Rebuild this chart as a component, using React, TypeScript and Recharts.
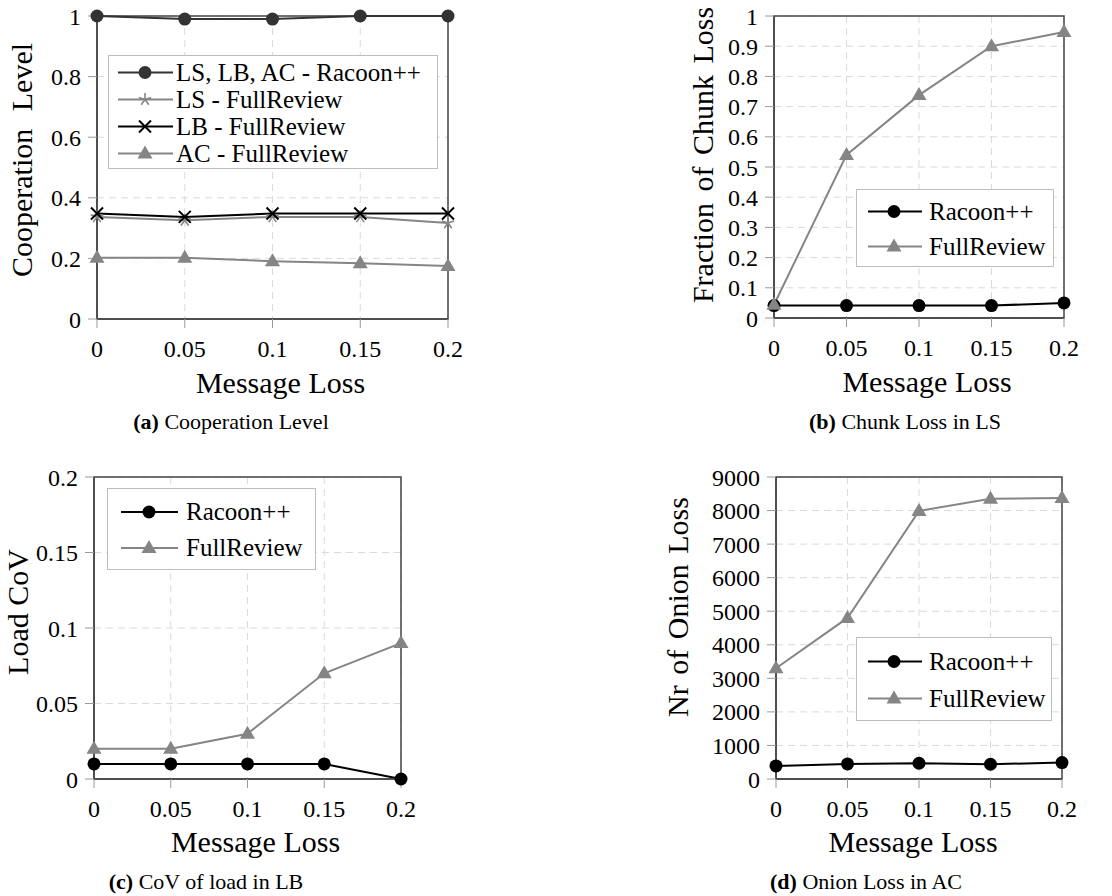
import React from 'react';
import { LineChart, Line, XAxis, YAxis, CartesianGrid, Legend, ReferenceArea, Label } from 'recharts';

// ---------- data ----------
const messageLoss = [0, 0.05, 0.1, 0.15, 0.2];
const xTicks = [0, 0.05, 0.1, 0.15, 0.2];

const coopRacoon = [1, 0.99, 0.99, 1, 1];
const coopLSFull = [0.337, 0.326, 0.337, 0.337, 0.317];
const coopLBFull = [0.348, 0.337, 0.348, 0.348, 0.348];
const coopACFull = [0.202, 0.202, 0.191, 0.184, 0.175];
const coopTicks = [0, 0.2, 0.4, 0.6, 0.8, 1];

const chunkRacoon = [0.041, 0.041, 0.041, 0.041, 0.05];
const chunkFull = [0.044, 0.54, 0.738, 0.9, 0.947];
const chunkTicks = [0, 0.1, 0.2, 0.3, 0.4, 0.5, 0.6, 0.7, 0.8, 0.9, 1];

const covRacoon = [0.01, 0.01, 0.01, 0.01, 0];
const covFull = [0.02, 0.02, 0.03, 0.07, 0.09];
const covTicks = [0, 0.05, 0.1, 0.15, 0.2];

const onionRacoon = [390, 450, 470, 440, 490];
const onionFull = [3300, 4800, 7990, 8355, 8375];
const onionTicks = [0, 1000, 2000, 3000, 4000, 5000, 6000, 7000, 8000, 9000];

// ---------- styling ----------
const FONT = '"Liberation Serif", "Times New Roman", serif';
const GRAY = '#858585';
const FRAME = '#444444';

type Series = { key: string; name: string; color: string; marker: string; width: number; values: number[] };

const build = (series: Series[]) =>
  messageLoss.map((x, i) => {
    const row: Record<string, number> = { x };
    series.forEach((s) => {
      row[s.key] = s.values[i];
    });
    return row;
  });

const Marker = ({ type, cx, cy, color }: { type: string; cx: number; cy: number; color: string }) => {
  if (cx == null || cy == null) return null;
  switch (type) {
    case 'circle':
      return <circle cx={cx} cy={cy} r={6.5} fill={color} />;
    case 'triangle':
      return <polygon points={`${cx},${cy - 8} ${cx - 7.5},${cy + 5} ${cx + 7.5},${cy + 5}`} fill={color} />;
    case 'cross':
      return (
        <path
          d={`M${cx - 6},${cy - 6}L${cx + 6},${cy + 6}M${cx - 6},${cy + 6}L${cx + 6},${cy - 6}`}
          stroke={color}
          strokeWidth={2}
          fill="none"
        />
      );
    case 'star': {
      const r = 6.5;
      let d = '';
      for (let k = 0; k < 5; k++) {
        const a = ((90 + 72 * k) * Math.PI) / 180;
        d += `M${cx},${cy}L${cx + r * Math.cos(a)},${cy - r * Math.sin(a)}`;
      }
      return <path d={d} stroke={color} strokeWidth={1.6} fill="none" />;
    }
    default:
      return null;
  }
};

type LegendCfg = {
  left: number; top: number; width: number; padTop: number; padBottom: number;
  rowH: number; iconLeft: number; iconW: number; markerX: number; textGap: number;
};

type PanelCfg = {
  left: number; top: number; width: number; height: number;
  margin: { top: number; right: number; bottom: number; left: number };
  yWidth: number; xHeight: number;
  yTicks: number[]; yMax: number;
  yLabel: string; yLabelOffset: number; yLabelDy: number; yWordSpacing: number;
  xLabelDx: number; xLabelBaseline: number;
  series: Series[];
  legend: LegendCfg;
};

const racoonA: Series = { key: 'racoon', name: 'LS, LB, AC - Racoon++', color: '#333333', marker: 'circle', width: 2, values: coopRacoon };
const lsFull: Series = { key: 'ls', name: 'LS - FullReview', color: GRAY, marker: 'star', width: 2, values: coopLSFull };
const lbFull: Series = { key: 'lb', name: 'LB - FullReview', color: '#000000', marker: 'cross', width: 2, values: coopLBFull };
const acFull: Series = { key: 'ac', name: 'AC - FullReview', color: GRAY, marker: 'triangle', width: 2, values: coopACFull };

const rac = (values: number[]): Series => ({ key: 'racoon', name: 'Racoon++', color: '#000000', marker: 'circle', width: 2, values });
const full = (values: number[]): Series => ({ key: 'full', name: 'FullReview', color: GRAY, marker: 'triangle', width: 2, values });

const panels: PanelCfg[] = [
  {
    left: 0, top: 0, width: 560, height: 440,
    margin: { top: 16, right: 112, bottom: 31, left: 0 }, yWidth: 97, xHeight: 90,
    yTicks: coopTicks, yMax: 1,
    yLabel: 'Cooperation Level', yLabelOffset: 65, yLabelDy: -7.5, yWordSpacing: 10,
    xLabelDx: 8, xLabelBaseline: 74,
    series: [racoonA, lsFull, lbFull, acFull],
    legend: { left: 108, top: 55, width: 330, padTop: 3, padBottom: 1, rowH: 27, iconLeft: 9, iconW: 55, markerX: 27, textGap: 3 },
  },
  {
    left: 560, top: 0, width: 552, height: 440,
    margin: { top: 16, right: 48, bottom: 32, left: 0 }, yWidth: 214, xHeight: 90,
    yTicks: chunkTicks, yMax: 1,
    yLabel: 'Fraction of Chunk Loss', yLabelOffset: 61, yLabelDy: -12, yWordSpacing: 4,
    xLabelDx: 8, xLabelBaseline: 74,
    series: [rac(chunkRacoon), full(chunkFull)],
    legend: { left: 296, top: 189, width: 198, padTop: 3.5, padBottom: 2.5, rowH: 35, iconLeft: 11, iconW: 54, markerX: 26, textGap: 7 },
  },
  {
    left: 0, top: 440, width: 560, height: 456,
    margin: { top: 37, right: 159, bottom: 27, left: 0 }, yWidth: 94, xHeight: 90,
    yTicks: covTicks, yMax: 0.2,
    yLabel: 'Load CoV', yLabelOffset: 66, yLabelDy: -16, yWordSpacing: 0,
    xLabelDx: 8, xLabelBaseline: 73,
    series: [rac(covRacoon), full(covFull)],
    legend: { left: 107, top: 48, width: 209, padTop: 5, padBottom: 3, rowH: 36, iconLeft: 13, iconW: 57, markerX: 28, textGap: 8 },
  },
  {
    left: 560, top: 440, width: 552, height: 456,
    margin: { top: 37, right: 50, bottom: 27, left: 0 }, yWidth: 216, xHeight: 90,
    yTicks: onionTicks, yMax: 9000,
    yLabel: 'Nr of Onion Loss', yLabelOffset: 88, yLabelDy: -21, yWordSpacing: 3,
    xLabelDx: -6, xLabelBaseline: 73,
    series: [rac(onionRacoon), full(onionFull)],
    legend: { left: 296, top: 197, width: 196, padTop: 4.5, padBottom: 3.5, rowH: 37, iconLeft: 11, iconW: 54, markerX: 26, textGap: 7 },
  },
];

const captions = [
  { tag: '(a)', text: ' Cooperation Level', cx: 231, baseline: 429 },
  { tag: '(b)', text: ' Chunk Loss in LS', cx: 905, baseline: 429 },
  { tag: '(c)', text: ' CoV of load in LB', cx: 206, baseline: 889 },
  { tag: '(d)', text: ' Onion Loss in AC', cx: 866, baseline: 889 },
];

const LegendBox = ({ cfg, series }: { cfg: LegendCfg; series: Series[] }) => (
  <div
    style={{
      boxSizing: 'border-box',
      width: cfg.width,
      border: '1.3px solid #bdbdbd',
      background: '#ffffff',
      paddingTop: cfg.padTop,
      paddingBottom: cfg.padBottom,
    }}
  >
    {series.map((s) => (
      <div key={s.key} style={{ display: 'flex', alignItems: 'center', height: cfg.rowH }}>
        <svg width={cfg.iconW} height={cfg.rowH} style={{ marginLeft: cfg.iconLeft, flex: 'none' }}>
          <line x1={0} x2={cfg.iconW} y1={cfg.rowH / 2} y2={cfg.rowH / 2} stroke={s.color} strokeWidth={s.width} />
          <Marker type={s.marker} cx={cfg.markerX} cy={cfg.rowH / 2} color={s.color} />
        </svg>
        <span
          style={{
            marginLeft: cfg.textGap,
            fontFamily: FONT,
            fontSize: 25,
            lineHeight: `${cfg.rowH}px`,
            color: '#000',
            whiteSpace: 'nowrap',
          }}
        >
          {s.name}
        </span>
      </div>
    ))}
  </div>
);

const Panel = ({ cfg }: { cfg: PanelCfg }) => {
  const data = build(cfg.series);
  const yTitle = (props: any) => {
    const vb = props.viewBox || {};
    const x = vb.x + vb.width - cfg.yLabelOffset;
    const y = vb.y + vb.height / 2 + cfg.yLabelDy;
    return (
      <text
        x={x}
        y={y}
        transform={`rotate(-90 ${x} ${y})`}
        textAnchor="middle"
        fontSize={30}
        fontFamily={FONT}
        fill="#000"
        style={{ wordSpacing: cfg.yWordSpacing }}
      >
        {cfg.yLabel}
      </text>
    );
  };
  const xTitle = (props: any) => {
    const vb = props.viewBox || {};
    const x = vb.x + vb.width / 2 + cfg.xLabelDx;
    const y = vb.y + cfg.xLabelBaseline;
    return (
      <text x={x} y={y} textAnchor="middle" fontSize={30} fontFamily={FONT} fill="#000">
        Message Loss
      </text>
    );
  };
  return (
    <div style={{ position: 'absolute', left: cfg.left, top: cfg.top, width: cfg.width, height: cfg.height }}>
      <LineChart width={cfg.width} height={cfg.height} data={data} margin={cfg.margin}>
        <CartesianGrid stroke="#dadada" strokeDasharray="7 5" strokeWidth={1} />
        <ReferenceArea x1={0} x2={0.2} y1={0} y2={cfg.yMax} fill="none" stroke={FRAME} strokeWidth={1.5} />
        <XAxis
          dataKey="x"
          type="number"
          domain={[0, 0.2]}
          ticks={xTicks}
          height={cfg.xHeight}
          tickSize={9}
          tickMargin={12}
          axisLine={{ stroke: FRAME, strokeWidth: 1.5 }}
          tickLine={{ stroke: '#9a9a9a', strokeWidth: 1 }}
          tick={{ fill: '#000', fontSize: 24, fontFamily: FONT }}
          interval={0}
        >
          <Label content={xTitle} />
        </XAxis>
        <YAxis
          type="number"
          domain={[0, cfg.yMax]}
          ticks={cfg.yTicks}
          width={cfg.yWidth}
          tickSize={9}
          tickMargin={7}
          axisLine={{ stroke: FRAME, strokeWidth: 1.5 }}
          tickLine={{ stroke: '#9a9a9a', strokeWidth: 1 }}
          tick={{ fill: '#000', fontSize: 24, fontFamily: FONT }}
          interval={0}
        >
          <Label content={yTitle} />
        </YAxis>
        {cfg.series.map((s) => (
          <Line
            key={s.key}
            dataKey={s.key}
            name={s.name}
            type="linear"
            stroke={s.color}
            strokeWidth={s.width}
            isAnimationActive={false}
            activeDot={false}
            dot={(p: any) => <Marker key={`${s.key}-${p.index}`} type={s.marker} cx={p.cx} cy={p.cy} color={s.color} />}
          />
        ))}
        <Legend
          layout="vertical"
          align="center"
          verticalAlign="middle"
          wrapperStyle={{ left: cfg.legend.left, top: cfg.legend.top, width: cfg.legend.width }}
          content={() => <LegendBox cfg={cfg.legend} series={cfg.series} />}
        />
      </LineChart>
    </div>
  );
};

export default function App() {
  return (
    <div style={{ position: 'absolute', left: 0, top: 0, width: 1112, height: 896, background: '#fff', overflow: 'hidden' }}>
      {panels.map((p, i) => (
        <Panel key={i} cfg={p} />
      ))}
      <svg width={1112} height={896} style={{ position: 'absolute', left: 0, top: 0, pointerEvents: 'none' }}>
        {captions.map((c) => (
          <text key={c.tag} x={c.cx} y={c.baseline} textAnchor="middle" fontFamily={FONT} fontSize={22} fill="#000">
            <tspan fontWeight="bold">{c.tag}</tspan>
            <tspan>{c.text}</tspan>
          </text>
        ))}
      </svg>
    </div>
  );
}
